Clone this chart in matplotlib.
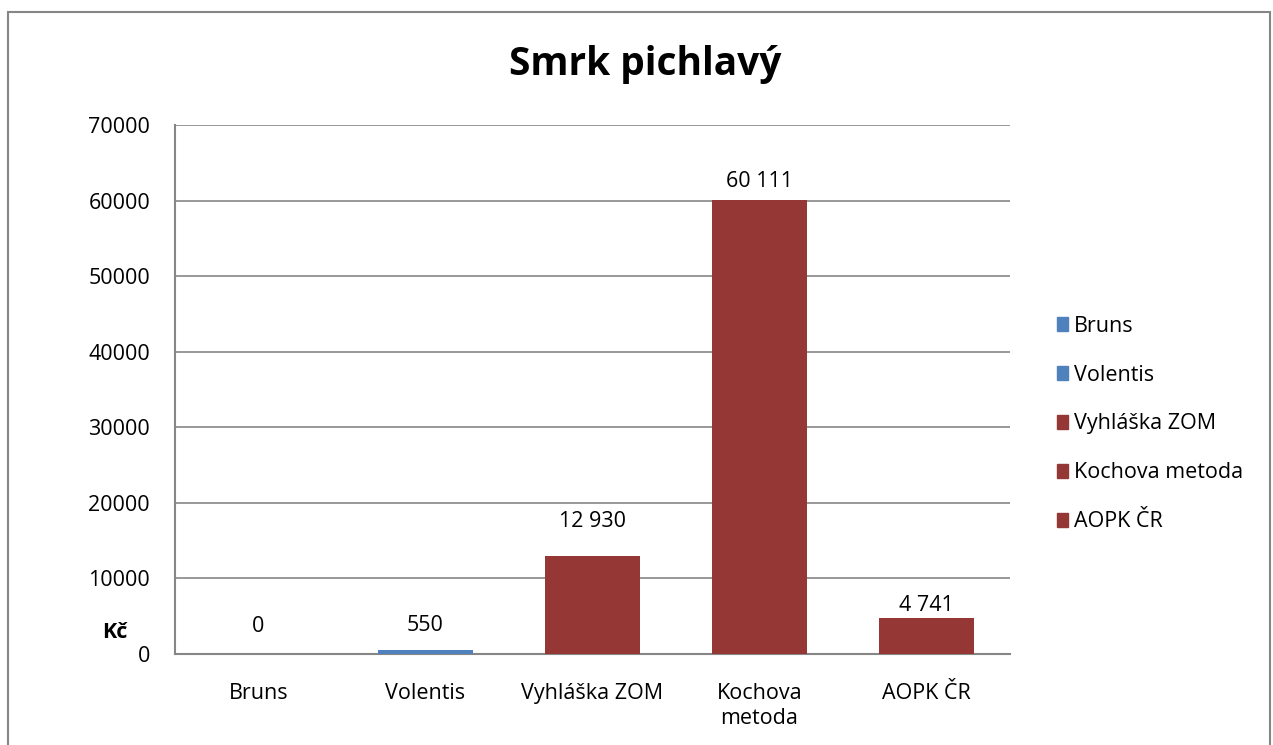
import matplotlib
matplotlib.use("Agg")
from matplotlib import pyplot as plt
from matplotlib.patches import Rectangle, Patch

# data
categories = ["Bruns", "Volentis", "Vyhláška ZOM", "Kochova\nmetoda", "AOPK ČR"]
legend_names = ["Bruns", "Volentis", "Vyhláška ZOM", "Kochova metoda", "AOPK ČR"]
values = [0, 550, 12930, 60111, 4741]
value_labels = ["0", "550", "12 930", "60 111", "4 741"]
bar_colors = ["#4F81BD", "#4F81BD", "#953735", "#953735", "#953735"]

plt.rcParams['font.family'] = ['Open Sans', 'DejaVu Sans']
FS = 15.5

fig = plt.figure(figsize=(12.73, 7.45), dpi=100)
ax = fig.add_axes([175 / 1273, 1 - 654 / 745, 835 / 1273, 529 / 745])

# outer chart border
fig.patches.append(Rectangle((8 / 1273, -0.05), 1262 / 1273, 1.05 - 12 / 745,
                             transform=fig.transFigure, fill=False,
                             edgecolor="#868686", linewidth=1.5))

x = range(len(categories))
bars = ax.bar(x, values, width=0.57, color=bar_colors, zorder=3)

ax.set_ylim(0, 70000)
ax.set_xlim(-0.5, len(categories) - 0.5)
ax.set_yticks(range(0, 70001, 10000))
ax.set_yticklabels([str(v) for v in range(0, 70001, 10000)])
ax.set_xticks(list(x))
ax.set_xticklabels(categories, linespacing=1.25)
ax.tick_params(axis='both', length=0, labelsize=FS)
ax.tick_params(axis='y', pad=18)
ax.tick_params(axis='x', pad=21)
ax.grid(axis='y', color="#868686", linewidth=1.2, zorder=0)
for s in ['top', 'right']:
    ax.spines[s].set_visible(False)
for s in ['left', 'bottom']:
    ax.spines[s].set_color("#868686")
    ax.spines[s].set_linewidth(1.5)

# label distance above bar top, in pixels
offsets = [28, 24, 35, 18, 13]
for i, (v, lbl) in enumerate(zip(values, value_labels)):
    ax.annotate(lbl, (i, v), xytext=(0, offsets[i] * 0.72), textcoords="offset points",
                ha='center', va='center', fontsize=FS)

fig.text(645 / 1273, 1 - 64 / 745, "Smrk pichlavý", fontsize=28, fontweight='bold',
         ha='center', va='center')

fig.text(115 / 1273, 1 - 633 / 745, "Kč", fontsize=FS, fontweight='bold',
         ha='center', va='center')

handles = [Patch(color=c) for c in bar_colors]
fig.legend(handles, legend_names, loc='center left',
           bbox_to_anchor=(1057 / 1273, 1 - 424 / 745), frameon=False,
           fontsize=FS, handlelength=0.5, handleheight=0.6, handletextpad=0.28,
           labelspacing=1.3, borderpad=0, borderaxespad=0)

fig.savefig("out.png", dpi=100)
